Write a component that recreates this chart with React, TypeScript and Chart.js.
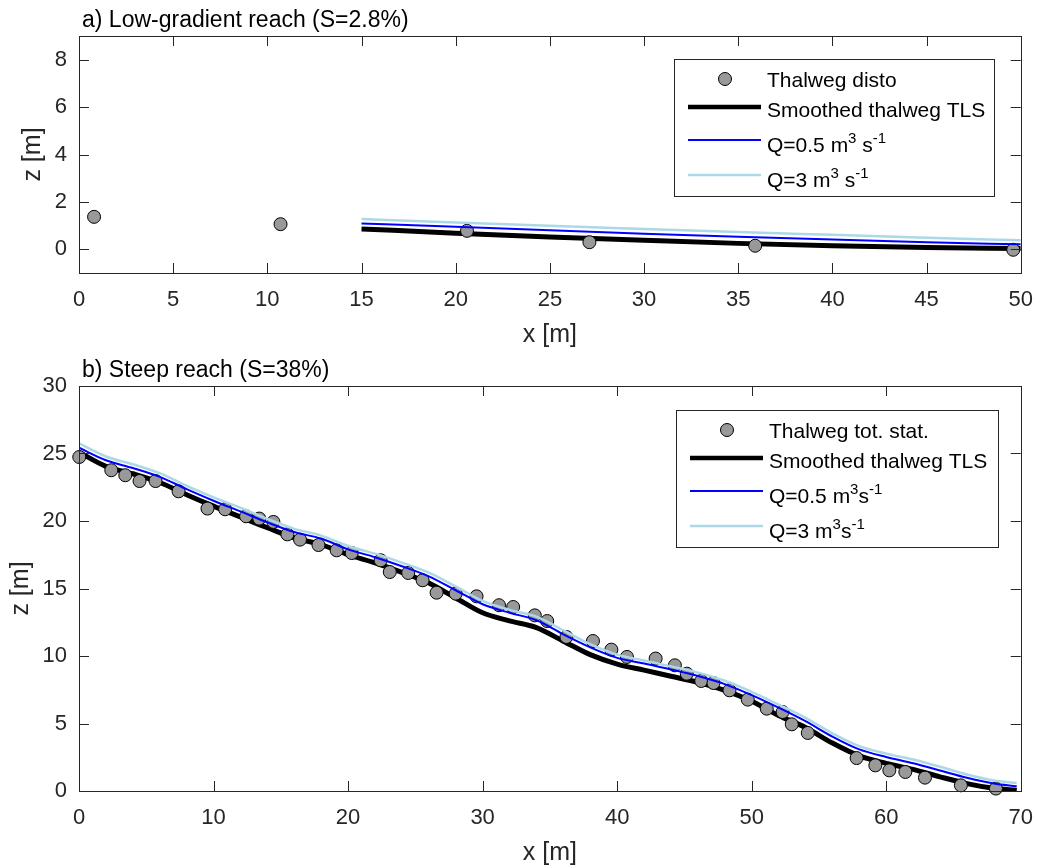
import React, { useEffect, useRef } from "react";
import { Chart, registerables } from "chart.js";
Chart.register(...registerables);

const FONT = '"Liberation Sans", Arial, Helvetica, sans-serif';

// ---------- Panel a) Low-gradient reach ----------
const topTitle = "a) Low-gradient reach (S=2.8%)";
const topPointsX = [0.8, 10.7, 20.6, 27.1, 35.9, 49.6];
const topPointsZ = [1.37, 1.06, 0.78, 0.3, 0.15, -0.02];
const topLineX = [15, 20, 25, 30, 35, 40, 45, 50];
const topSmoothed = [0.86, 0.68, 0.52, 0.38, 0.25, 0.15, 0.08, 0.03];
const topQ05 = [1.09, 0.95, 0.8, 0.66, 0.53, 0.41, 0.3, 0.21];
const topQ3 = [1.28, 1.13, 0.99, 0.86, 0.73, 0.61, 0.49, 0.38];
const topXTicks = [0, 5, 10, 15, 20, 25, 30, 35, 40, 45, 50];
const topYTicks = [0, 2, 4, 6, 8];
const topLegend = ["Thalweg disto", "Smoothed thalweg TLS", "Q=0.5 m^3 s^{-1}", "Q=3 m^3 s^{-1}"];

// ---------- Panel b) Steep reach ----------
const botTitle = "b) Steep reach (S=38%)";
const botPointsX = [0.02, 2.4, 3.44, 4.5, 5.69, 7.4, 9.55, 10.86, 12.42, 13.4, 14.45, 15.49, 16.43, 17.8, 19.15, 20.27, 22.42, 23.1, 24.47, 25.54, 26.58, 28.0, 29.55, 31.22, 32.27, 33.88, 34.8, 36.23, 38.2, 39.57, 40.73, 42.86, 44.29, 45.18, 46.25, 47.16, 48.35, 49.71, 51.12, 52.3, 52.98, 54.17, 57.8, 59.19, 60.23, 61.42, 62.88, 65.55, 68.15];
const botPointsZ = [24.74, 23.76, 23.39, 22.96, 22.96, 22.2, 20.92, 20.87, 20.35, 20.18, 19.93, 19.01, 18.62, 18.22, 17.83, 17.63, 17.09, 16.22, 16.15, 15.61, 14.69, 14.62, 14.42, 13.76, 13.63, 13.01, 12.59, 11.41, 11.11, 10.47, 9.93, 9.81, 9.31, 8.69, 8.15, 8.0, 7.46, 6.77, 6.1, 5.85, 4.94, 4.3, 2.44, 1.9, 1.53, 1.41, 0.99, 0.42, 0.18];
const botLineX = [0, 2, 4, 6, 8, 10, 12, 14, 16, 18, 20, 22, 24, 26, 28, 30, 32, 34, 36, 38, 40, 42, 44, 46, 48, 50, 52, 54, 56, 58, 60, 62, 64, 66, 68, 69.7];
const botSmoothed = [25.1, 24.05, 23.5, 22.85, 21.95, 21.1, 20.3, 19.5, 18.75, 18.25, 17.5, 16.9, 16.2, 15.4, 14.3, 13.2, 12.6, 12.1, 11.1, 10.1, 9.4, 8.95, 8.5, 8.05, 7.45, 6.65, 5.6, 4.7, 3.55, 2.6, 2.05, 1.6, 1.05, 0.55, 0.2, 0.05];
const botQ05 = [25.43, 24.5, 23.92, 23.27, 22.36, 21.5, 20.71, 19.9, 19.18, 18.7, 17.9, 17.32, 16.65, 15.9, 14.87, 13.83, 13.2, 12.65, 11.6, 10.64, 9.86, 9.44, 9.0, 8.52, 7.92, 7.1, 6.17, 5.17, 4.03, 3.08, 2.52, 2.06, 1.52, 0.98, 0.55, 0.35];
const botQ3 = [25.75, 24.78, 24.2, 23.55, 22.6, 21.75, 20.98, 20.15, 19.42, 18.92, 18.15, 17.58, 16.92, 16.17, 15.15, 14.08, 13.42, 12.92, 11.9, 10.88, 10.1, 9.67, 9.23, 8.77, 8.17, 7.35, 6.4, 5.42, 4.27, 3.32, 2.77, 2.33, 1.8, 1.22, 0.78, 0.6];
const botXTicks = [0, 10, 20, 30, 40, 50, 60, 70];
const botYTicks = [0, 5, 10, 15, 20, 25, 30];
const botLegend = ["Thalweg tot. stat.", "Smoothed thalweg TLS", "Q=0.5 m^3s^{-1}", "Q=3 m^3s^{-1}"];

const AXIS_COLOR = "#262626";
const POINT_FILL = "#999999";
const BLUE = "#0000ff";
const LIGHTBLUE = "#add8e6";

type Seg = { t: string; sup: boolean };
function parseRich(s: string): Seg[] {
  const segs: Seg[] = [];
  let buf = "";
  let i = 0;
  while (i < s.length) {
    if (s[i] === "^") {
      if (buf) { segs.push({ t: buf, sup: false }); buf = ""; }
      i++;
      if (s[i] === "{") {
        const j = s.indexOf("}", i);
        segs.push({ t: s.slice(i + 1, j), sup: true });
        i = j + 1;
      } else {
        segs.push({ t: s[i], sup: true });
        i++;
      }
    } else {
      buf += s[i];
      i++;
    }
  }
  if (buf) segs.push({ t: buf, sup: false });
  return segs;
}

function drawRich(ctx: CanvasRenderingContext2D, s: string, x: number, y: number) {
  let cx = x;
  for (const seg of parseRich(s)) {
    ctx.font = seg.sup ? `15px ${FONT}` : `21px ${FONT}`;
    ctx.fillText(seg.t, cx, seg.sup ? y - 9 : y);
    cx += ctx.measureText(seg.t).width;
  }
}

function framePlugin(cfg: { title: string; legend: string[]; ylabelX: number; legendLeft: number; legendW: number; legendTop: number }) {
  return {
    id: "frame",
    afterDraw(chart: any) {
      const { ctx, chartArea: a, scales } = chart;
      const xs = scales.x;
      const ys = scales.y;
      ctx.save();
      // box
      ctx.strokeStyle = AXIS_COLOR;
      ctx.lineWidth = 1;
      ctx.strokeRect(Math.round(a.left) + 0.5, Math.round(a.top) + 0.5, Math.round(a.right - a.left), Math.round(a.bottom - a.top));
      // inward ticks on all sides
      ctx.beginPath();
      xs.ticks.forEach((t: any) => {
        const p = Math.round(xs.getPixelForValue(t.value)) + 0.5;
        ctx.moveTo(p, a.bottom); ctx.lineTo(p, a.bottom - 10);
        ctx.moveTo(p, a.top); ctx.lineTo(p, a.top + 10);
      });
      ys.ticks.forEach((t: any) => {
        const p = Math.round(ys.getPixelForValue(t.value)) + 0.5;
        ctx.moveTo(a.left, p); ctx.lineTo(a.left + 10, p);
        ctx.moveTo(a.right, p); ctx.lineTo(a.right - 10, p);
      });
      ctx.stroke();
      // title
      ctx.fillStyle = "#000";
      ctx.font = `23px ${FONT}`;
      ctx.textAlign = "left";
      ctx.textBaseline = "alphabetic";
      ctx.fillText(cfg.title, a.left + 3, a.top - 9);
      // axis labels
      ctx.fillStyle = AXIS_COLOR;
      ctx.font = `25px ${FONT}`;
      ctx.textAlign = "center";
      ctx.textBaseline = "middle";
      ctx.fillText("x [m]", (a.left + a.right) / 2, a.bottom + 62);
      ctx.save();
      ctx.translate(cfg.ylabelX, (a.top + a.bottom) / 2);
      ctx.rotate(-Math.PI / 2);
      ctx.fillText("z [m]", 0, 0);
      ctx.restore();
      // legend
      const L = cfg.legendLeft, T = a.top + cfg.legendTop, W = cfg.legendW, H = 137;
      ctx.fillStyle = "#fff";
      ctx.fillRect(L, T, W, H);
      ctx.strokeStyle = AXIS_COLOR;
      ctx.lineWidth = 1;
      ctx.strokeRect(L + 0.5, T + 0.5, W, H);
      // marker
      ctx.beginPath();
      ctx.arc(L + 51, T + 20, 6.5, 0, Math.PI * 2);
      ctx.fillStyle = POINT_FILL;
      ctx.fill();
      ctx.strokeStyle = "#000";
      ctx.stroke();
      const lines = [
        { y: 48, c: "#000", w: 4.5 },
        { y: 81, c: BLUE, w: 2 },
        { y: 116, c: LIGHTBLUE, w: 2.5 },
      ];
      lines.forEach((ln) => {
        ctx.beginPath();
        ctx.strokeStyle = ln.c;
        ctx.lineWidth = ln.w;
        ctx.moveTo(L + 14, T + ln.y);
        ctx.lineTo(L + 87, T + ln.y);
        ctx.stroke();
      });
      ctx.fillStyle = "#000";
      ctx.textAlign = "left";
      ctx.textBaseline = "alphabetic";
      const baselines = [28, 58, 93, 128];
      cfg.legend.forEach((s, i) => drawRich(ctx, s, L + 93, T + baselines[i]));
      ctx.restore();
    },
  };
}

function makeConfig(p: {
  px: number[]; pz: number[]; lx: number[]; smooth: number[]; q05: number[]; q3: number[];
  xmin: number; xmax: number; ymin: number; ymax: number; xt: number[]; yt: number[];
  title: string; legend: string[]; ylabelX: number; legendLeft: number; legendW: number; legendTop: number;
}): any {
  const tickFont = { family: FONT, size: 22 };
  return {
    type: "scatter",
    data: {
      datasets: [
        {
          label: p.legend[0],
          data: p.px.map((x, i) => ({ x, y: p.pz[i] })),
          showLine: false,
          pointRadius: 6.5,
          pointBackgroundColor: POINT_FILL,
          pointBorderColor: "#000",
          pointBorderWidth: 1,
          order: 3,
          clip: false,
        },
        {
          label: p.legend[1],
          data: p.lx.map((x, i) => ({ x, y: p.smooth[i] })),
          showLine: true,
          borderColor: "#000",
          borderWidth: 5,
          pointRadius: 0,
          cubicInterpolationMode: "monotone",
          order: 4,
        },
        {
          label: p.legend[2],
          data: p.lx.map((x, i) => ({ x, y: p.q05[i] })),
          showLine: true,
          borderColor: BLUE,
          borderWidth: 2,
          pointRadius: 0,
          cubicInterpolationMode: "monotone",
          order: 2,
        },
        {
          label: p.legend[3],
          data: p.lx.map((x, i) => ({ x, y: p.q3[i] })),
          showLine: true,
          borderColor: LIGHTBLUE,
          borderWidth: 2.5,
          pointRadius: 0,
          cubicInterpolationMode: "monotone",
          order: 1,
        },
      ],
    },
    options: {
      responsive: false,
      animation: false,
      events: [],
      layout: { padding: { left: 0, right: 26, top: 36, bottom: 37 } },
      plugins: { legend: { display: false }, tooltip: { enabled: false }, title: { display: false } },
      scales: {
        x: {
          type: "linear",
          min: p.xmin,
          max: p.xmax,
          afterBuildTicks: (s: any) => { s.ticks = p.xt.map((v) => ({ value: v })); },
          afterFit: (s: any) => { s.height = 40; },
          grid: { display: false, drawTicks: false },
          border: { display: false },
          ticks: { padding: 14, font: tickFont, color: AXIS_COLOR, maxRotation: 0, autoSkip: false },
        },
        y: {
          type: "linear",
          min: p.ymin,
          max: p.ymax,
          afterBuildTicks: (s: any) => { s.ticks = p.yt.map((v) => ({ value: v })); },
          afterFit: (s: any) => { s.width = 79; },
          grid: { display: false, drawTicks: false },
          border: { display: false },
          ticks: { padding: 12, font: tickFont, color: AXIS_COLOR, autoSkip: false },
        },
      },
    },
    plugins: [framePlugin({ title: p.title, legend: p.legend, ylabelX: p.ylabelX, legendLeft: p.legendLeft, legendW: p.legendW, legendTop: p.legendTop })],
  };
}

export default function App() {
  const topRef = useRef<HTMLCanvasElement>(null);
  const botRef = useRef<HTMLCanvasElement>(null);
  useEffect(() => {
    const c1 = new Chart(topRef.current as HTMLCanvasElement, makeConfig({
      px: topPointsX, pz: topPointsZ, lx: topLineX, smooth: topSmoothed, q05: topQ05, q3: topQ3,
      xmin: 0, xmax: 50, ymin: -1, ymax: 9, xt: topXTicks, yt: topYTicks,
      title: topTitle, legend: topLegend, ylabelX: 33, legendLeft: 674, legendW: 320, legendTop: 23,
    }));
    const c2 = new Chart(botRef.current as HTMLCanvasElement, makeConfig({
      px: botPointsX, pz: botPointsZ, lx: botLineX, smooth: botSmoothed, q05: botQ05, q3: botQ3,
      xmin: 0, xmax: 70, ymin: 0, ymax: 30, xt: botXTicks, yt: botYTicks,
      title: botTitle, legend: botLegend, ylabelX: 21, legendLeft: 676, legendW: 322, legendTop: 24,
    }));
    return () => { c1.destroy(); c2.destroy(); };
  }, []);
  return (
    <div style={{ position: "absolute", left: 0, top: 0, width: 1047, height: 868, background: "#fff" }}>
      <canvas ref={topRef} width={1047} height={350} style={{ position: "absolute", left: 0, top: 0 }} />
      <canvas ref={botRef} width={1047} height={518} style={{ position: "absolute", left: 0, top: 350 }} />
    </div>
  );
}
